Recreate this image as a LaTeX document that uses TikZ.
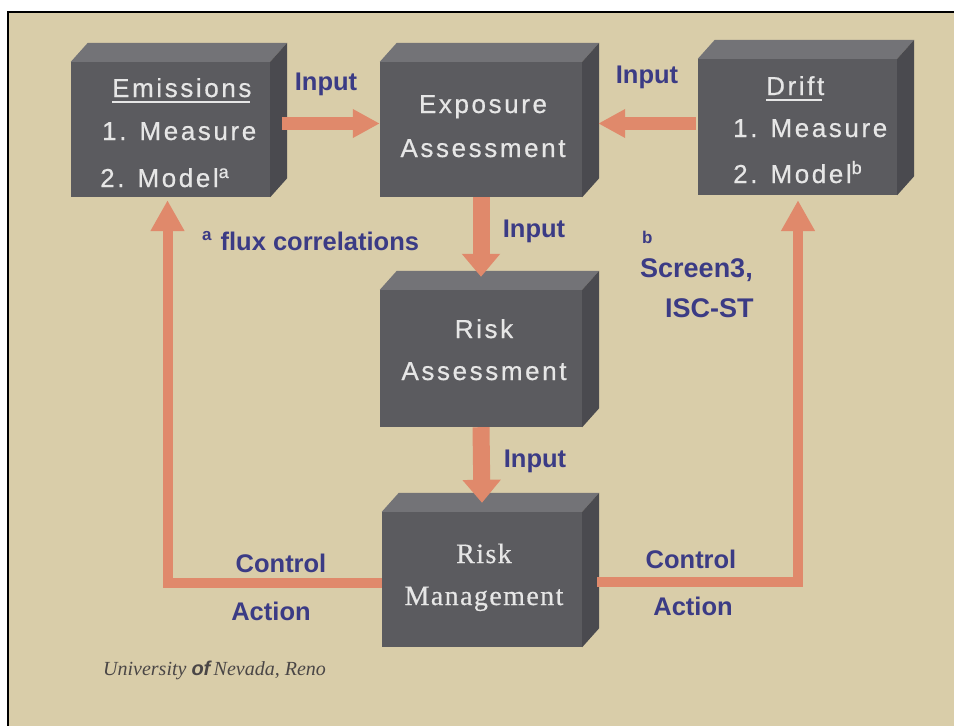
\documentclass[tikz,border=0pt]{standalone}
\usepackage{fontspec}
\setmainfont{Liberation Sans}
\newfontfamily\boxfont[LetterSpace=10,FakeBold=0.6]{Liberation Sans}
\newfontfamily\mgmtfont[LetterSpace=5,FakeBold=0.5]{Liberation Serif}
\newfontfamily\univfont{Liberation Serif}
\newfontfamily\ofont{Liberation Sans}
\usetikzlibrary{arrows.meta,calc}

\definecolor{slidebg}{HTML}{D9CDA9}
\definecolor{boxfront}{HTML}{5B5B5F}
\definecolor{boxtop}{HTML}{737377}
\definecolor{boxside}{HTML}{4A4A4F}
\definecolor{boxtext}{HTML}{E6E6E6}
\definecolor{flow}{HTML}{E0896B}
\definecolor{lblblue}{HTML}{3B3B85}
\definecolor{univgray}{HTML}{4A4646}

\tikzset{
  front/.style={rectangle, fill=boxfront, inner sep=0pt},
  boxtxt/.style={inner sep=0pt, text=boxtext, font=\boxfont\fontsize{26}{30}\selectfont},
  mgmttxt/.style={inner sep=0pt, text=boxtext, font=\mgmtfont\fontsize{28}{32}\selectfont},
  lbl/.style={inner sep=0pt, text=lblblue, font=\bfseries\fontsize{25.5}{30}\selectfont},
  biglbl/.style={inner sep=0pt, text=lblblue, font=\bfseries\fontsize{27}{30}\selectfont},
  hflow/.style={draw=flow, line width=13pt, -{Triangle[width=27pt,length=27pt]}},
  vflow/.style={draw=flow, line width=17pt, -{Triangle[width=37pt,length=23pt]}},
  ctrlflow/.style={draw=flow, line width=10pt, -{Triangle[width=32pt,length=31pt]}},
  headline/.style={draw=boxtext, line width=1.8pt},
}

\begin{document}
\begin{tikzpicture}[x=1pt, y=-1pt]
  \useasboundingbox (0,0) rectangle (954,726);

  % slide background and frame
  \fill[white] (0,0) rectangle (954,726);
  \fill[slidebg] (8,12) rectangle (954,726);
  \draw[black, line width=2.5pt] (8,726) -- (8,12) -- (954,12);

  % front faces of the blocks
  \node[front, minimum width=199pt, minimum height=135pt] (emis)  at (170.5,129.5) {};
  \node[front, minimum width=202pt, minimum height=135pt] (expo)  at (481,129.5) {};
  \node[front, minimum width=199pt, minimum height=136pt] (drift) at (797.5,127) {};
  \node[front, minimum width=202pt, minimum height=137pt] (riska) at (481,358.5) {};
  \node[front, minimum width=200pt, minimum height=135pt] (riskm) at (482,579.5) {};

  % top and side faces
  \foreach \b in {emis,expo,drift,riska,riskm}{
    \fill[boxtop] (\b.north west) -- ++(17,-19) -- ($(\b.north east)+(17,-19)$) -- (\b.north east) -- cycle;
    \fill[boxside] (\b.north east) -- ++(17,-19) -- ($(\b.south east)+(17,-19)$) -- (\b.south east) -- cycle;
  }

  % input arrows
  \draw[hflow] ($(emis.east)+(12,-6)$) -- ($(expo.west)+(0,-6)$);
  \draw[hflow] ($(drift.west)+(-2,-3.5)$) -- ($(expo.east)+(16,-6)$);
  \draw[vflow] (expo.south) -- ($(riska.north)+(0,-13)$);
  \draw[vflow] (riska.south) -- ($(riskm.north)+(0,-9)$);

  % control action feedback
  \draw[ctrlflow] ($(riskm.west)+(0,3.5)$) -| ($(emis.south)+(-3,3)$);
  \draw[ctrlflow] ($(riskm.east)+(15,2.5)$) -| ($(drift.south)+(0.5,5)$);

  % block texts
  \node[boxtxt, anchor=base west] (emh) at (112,97) {Emissions};
  \draw[headline] ([yshift=-5pt]emh.base west) -- ([yshift=-5pt,xshift=-2pt]emh.base east);
  \node[boxtxt, anchor=base west] (em1) at (102,140) {1.\hspace{13pt}Measure};
  \node[boxtxt, anchor=base west] (em2) at (100,187) {2.\hspace{13pt}Model\raisebox{9pt}{\fontsize{18}{18}\selectfont a}};

  \node[boxtxt, anchor=base west] (drh) at (766,95) {Drift};
  \draw[headline] ([yshift=-5pt]drh.base west) -- ([yshift=-5pt,xshift=-2pt]drh.base east);
  \node[boxtxt, anchor=base west] (dr1) at (733,137) {1.\hspace{13pt}Measure};
  \node[boxtxt, anchor=base west] (dr2) at (733,183) {2.\hspace{13pt}Model\raisebox{9pt}{\fontsize{18}{18}\selectfont b}};

  \node[boxtxt, anchor=base] (ex1) at (483,113) {Exposure};
  \node[boxtxt, anchor=base] (ex2) at (483,157) {Assessment};

  \node[boxtxt, anchor=base] (ra1) at (484,338) {Risk};
  \node[boxtxt, anchor=base] (ra2) at (484,380) {Assessment};

  \node[mgmttxt, anchor=base] (rm1) at (484,563) {Risk};
  \node[mgmttxt, anchor=base] (rm2) at (484,605) {Management};

  % flow labels
  \node[lbl, anchor=base] (in1) at (326,90) {Input};
  \node[lbl, anchor=base] (in2) at (647,83) {Input};
  \node[lbl, anchor=base] (in3) at (534,237) {Input};
  \node[lbl, anchor=base] (in4) at (535,467) {Input};

  \node[lbl, anchor=base west] (fluxnote) at (202,250)
    {\raisebox{10pt}{\fontsize{17}{17}\selectfont a}\hspace{9pt}flux correlations};
  \node[lbl, anchor=base west, font=\bfseries\fontsize{17}{17}\selectfont] (bnote) at (642,243) {b};
  \node[biglbl, anchor=base west] (scr) at (640,277) {Screen3,};
  \node[biglbl, anchor=base west] (isc) at (665,317) {ISC-ST};

  \node[lbl, anchor=base] (ctl1) at (281,572) {Control};
  \node[lbl, anchor=base] (act1) at (271,620) {Action};
  \node[lbl, anchor=base] (ctl2) at (691,568) {Control};
  \node[lbl, anchor=base] (act2) at (693,615) {Action};

  % footer
  \node[anchor=base west, inner sep=0pt, text=univgray, font=\univfont\itshape\fontsize{20}{24}\selectfont] (univ) at (103,675)
    {University {\ofont\bfseries\itshape of}\,Nevada, Reno};
\end{tikzpicture}
\end{document}
